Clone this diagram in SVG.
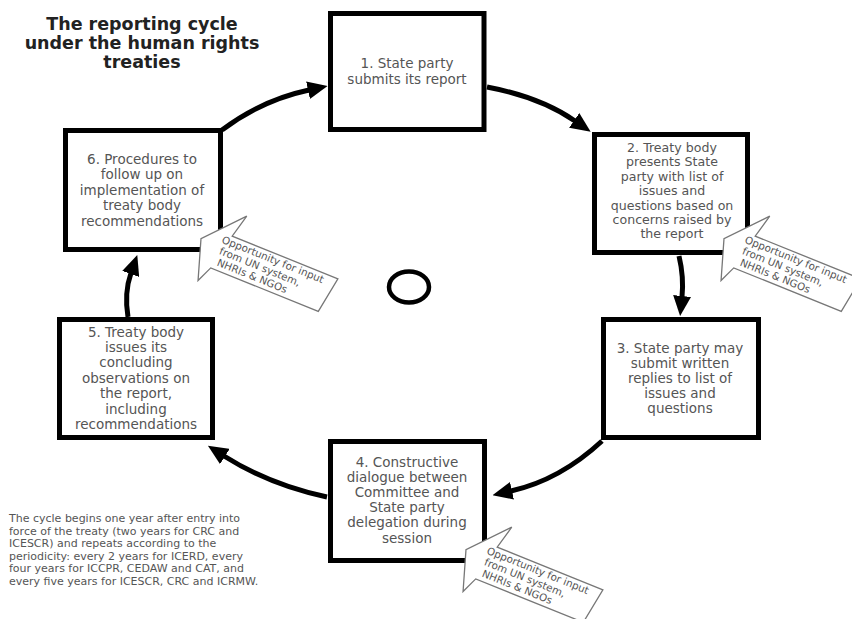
<svg xmlns="http://www.w3.org/2000/svg" width="852" height="619" viewBox="0 0 852 619">
  <style>
    .box { fill: #ffffff; stroke: #000000; stroke-width: 5; }
    .label { font-family: "DejaVu Sans", Verdana, sans-serif; font-size: 13.5px; fill: #555555; text-anchor: middle; }
    .tight { font-size: 12.6px; }
    .title { font-family: "DejaVu Sans", Verdana, sans-serif; font-size: 17.5px; font-weight: bold; fill: #222222; text-anchor: middle; }
    .note { font-family: "DejaVu Sans", Verdana, sans-serif; font-size: 11px; fill: #555555; }
    .link { fill: none; stroke: #000000; stroke-width: 5; marker-end: url(#arrow); }
    .bubble { fill: #ffffff; stroke: #777777; stroke-width: 1.3; }
    .btext { font-family: "DejaVu Sans", Verdana, sans-serif; font-size: 10.3px; fill: #555555; }
  </style>
  <defs>
    <marker id="arrow" markerWidth="20" markerHeight="18" refX="1" refY="9" orient="auto" markerUnits="userSpaceOnUse">
      <path d="M0,0 L20,9 L0,18 Z" fill="#000000"/>
    </marker>
    <!-- arrow-shaped callout, drawn in its own rotated frame -->
    <path id="callout-shape" d="M125,0 L11,0 L17,-24 L-17,14 L-4,54 L3,37.5 L119,37.5 Z"/>
  </defs>

  <rect width="852" height="619" fill="#ffffff"/>

  <!-- title -->
  <g id="title">
    <text class="title" x="142" y="30">The reporting cycle</text>
    <text class="title" x="142" y="49">under the human rights</text>
    <text class="title" x="142" y="68">treaties</text>
  </g>

  <!-- cycle arrows -->
  <g id="connectors">
    <path class="link" d="M487,87 Q540,97 575,121"/>
    <path class="link" d="M679,256 Q684,277 682,297"/>
    <path class="link" d="M602,441 Q560,480 511,491"/>
    <path class="link" d="M327,497 Q270,485 224,456"/>
    <path class="link" d="M128,317 Q124,293 131,273"/>
    <path class="link" d="M222,130 Q262,100 309,90"/>
  </g>

  <g id="step1">
    <rect class="box" x="330.5" y="13.5" width="153.5" height="116"/>
    <text class="label" x="407" y="68">1. State party</text>
    <text class="label" x="407" y="84">submits its report</text>
  </g>

  <g id="step2">
    <rect class="box" x="594.5" y="134.5" width="153" height="118"/>
    <text class="label tight" x="672" y="152">2. Treaty body</text>
    <text class="label tight" x="672" y="166.4">presents State</text>
    <text class="label tight" x="672" y="180.8">party with list of</text>
    <text class="label tight" x="672" y="195.2">issues and</text>
    <text class="label tight" x="672" y="209.6">questions based on</text>
    <text class="label tight" x="672" y="224">concerns raised by</text>
    <text class="label tight" x="672" y="238.4">the report</text>
  </g>

  <g id="step3">
    <rect class="box" x="603.5" y="319.5" width="155" height="118"/>
    <text class="label" x="680" y="352.5">3. State party may</text>
    <text class="label" x="680" y="367.7">submit written</text>
    <text class="label" x="680" y="382.9">replies to list of</text>
    <text class="label" x="680" y="398.1">issues and</text>
    <text class="label" x="680" y="413.3">questions</text>
  </g>

  <g id="step4">
    <rect class="box" x="330.5" y="441.5" width="154" height="119"/>
    <text class="label" x="407" y="466.5">4. Constructive</text>
    <text class="label" x="407" y="481.7">dialogue between</text>
    <text class="label" x="407" y="496.9">Committee and</text>
    <text class="label" x="407" y="512.1">State party</text>
    <text class="label" x="407" y="527.3">delegation during</text>
    <text class="label" x="407" y="542.5">session</text>
  </g>

  <g id="step5">
    <rect class="box" x="59.5" y="319.5" width="153" height="118"/>
    <text class="label" x="136" y="336.5">5. Treaty body</text>
    <text class="label" x="136" y="351.9">issues its</text>
    <text class="label" x="136" y="367.3">concluding</text>
    <text class="label" x="136" y="382.7">observations on</text>
    <text class="label" x="136" y="398.1">the report,</text>
    <text class="label" x="136" y="413.5">including</text>
    <text class="label" x="136" y="428.9">recommendations</text>
  </g>

  <g id="step6">
    <rect class="box" x="65.5" y="130.5" width="155" height="119"/>
    <text class="label" x="142" y="163.5">6. Procedures to</text>
    <text class="label" x="142" y="179">follow up on</text>
    <text class="label" x="142" y="194.5">implementation of</text>
    <text class="label" x="142" y="210">treaty body</text>
    <text class="label" x="142" y="225.5">recommendations</text>
  </g>

  <!-- input callouts -->
  <g id="input-followup" transform="translate(222,232) rotate(22)">
    <use href="#callout-shape" class="bubble"/>
    <text class="btext" x="3" y="10">Opportunity for input</text>
    <text class="btext" x="5" y="21.5">from UN system,</text>
    <text class="btext" x="7" y="33">NHRIs &amp; NGOs</text>
  </g>

  <g id="input-issues" transform="translate(745,232) rotate(22)">
    <use href="#callout-shape" class="bubble"/>
    <text class="btext" x="3" y="10">Opportunity for input</text>
    <text class="btext" x="5" y="21.5">from UN system,</text>
    <text class="btext" x="7" y="33">NHRIs &amp; NGOs</text>
  </g>

  <g id="input-dialogue" transform="translate(487,543) rotate(22)">
    <use href="#callout-shape" class="bubble"/>
    <text class="btext" x="3" y="10">Opportunity for input</text>
    <text class="btext" x="5" y="21.5">from UN system,</text>
    <text class="btext" x="7" y="33">NHRIs &amp; NGOs</text>
  </g>

  <!-- hub mark in the middle of the cycle -->
  <g id="hub">
    <ellipse cx="409" cy="287" rx="20" ry="15.5" fill="none" stroke="#000000" stroke-width="4.5"/>
  </g>

  <g id="periodicity-note">
    <text class="note" x="9" y="522">The cycle begins one year after entry into</text>
    <text class="note" x="9" y="534.6">force of the treaty (two years for CRC and</text>
    <text class="note" x="9" y="547.2">ICESCR) and repeats according to the</text>
    <text class="note" x="9" y="559.8">periodicity: every 2 years for ICERD, every</text>
    <text class="note" x="9" y="572.4">four years for ICCPR, CEDAW and CAT, and</text>
    <text class="note" x="9" y="585">every five years for ICESCR, CRC and ICRMW.</text>
  </g>
</svg>
